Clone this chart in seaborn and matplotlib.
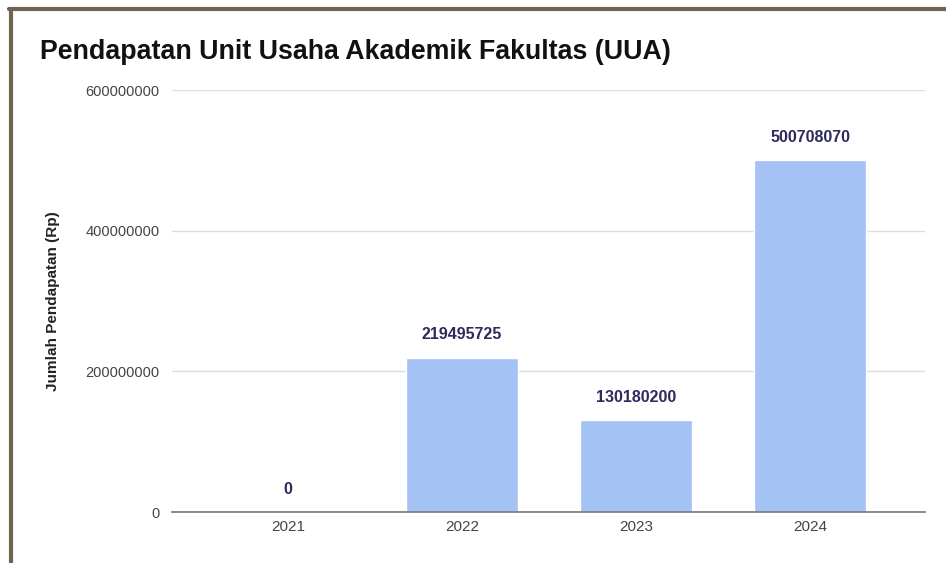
import matplotlib
matplotlib.use("Agg")
import matplotlib.pyplot as plt
import seaborn as sns
import pandas as pd

years = ["2021", "2022", "2023", "2024"]
pendapatan = [0, 219495725, 130180200, 500708070]
yticks = [0, 200000000, 400000000, 600000000]

sns.set_theme(style="white")
plt.rcParams['font.family'] = ['Liberation Sans', 'DejaVu Sans']

df = pd.DataFrame({"Tahun": years, "Pendapatan": pendapatan})

fig = plt.figure(figsize=(9.46, 5.63), dpi=100)
ax = fig.add_axes([172/946, 1-512/563, (925-172)/946, (512-90)/563])

sns.barplot(data=df, x="Tahun", y="Pendapatan", color="#a4c2f4", saturation=1,
            width=0.64, ax=ax, zorder=3)

for i, v in enumerate(pendapatan):
	ax.annotate(str(v), (i, v), xytext=(0, 11), textcoords="offset points",
	            ha="center", va="bottom", fontsize=11.5, fontweight="bold", color="#2e2b5c")

ax.set_ylim(0, 600000000)
ax.set_xlim(-0.667, 3.66)
ax.set_yticks(yticks)
ax.set_yticklabels([str(t) for t in yticks], fontsize=10.5, color="#444444")
ax.tick_params(axis="x", labelsize=11, labelcolor="#444444", length=0, pad=6)
ax.tick_params(axis="y", length=0, pad=9)
ax.yaxis.grid(True, color="#dddddd", linewidth=1, zorder=0)
for s in ["top", "right", "left"]:
	ax.spines[s].set_visible(False)
ax.spines["bottom"].set_color("#777777")
ax.spines["bottom"].set_linewidth(1.2)
ax.spines["bottom"].set_zorder(4)
ax.set_xlabel("")
ax.set_ylabel("Jumlah Pendapatan (Rp)", fontsize=11, fontweight="bold", color="#222222", labelpad=18)

fig.text(40/946, 1-52/563, "Pendapatan Unit Usaha Akademik Fakultas (UUA)", fontsize=19.3,
         fontweight="bold", color="#111111", va="center", ha="left")

# brown frame of the screenshot (left and top)
fig.add_artist(plt.Line2D([10.5/946, 10.5/946], [0, 1-8.5/563], color="#6e6450", linewidth=3))
fig.add_artist(plt.Line2D([9/946, 1], [1-8.5/563, 1-8.5/563], color="#6e6450", linewidth=3))

plt.savefig("out.png", dpi=100)
